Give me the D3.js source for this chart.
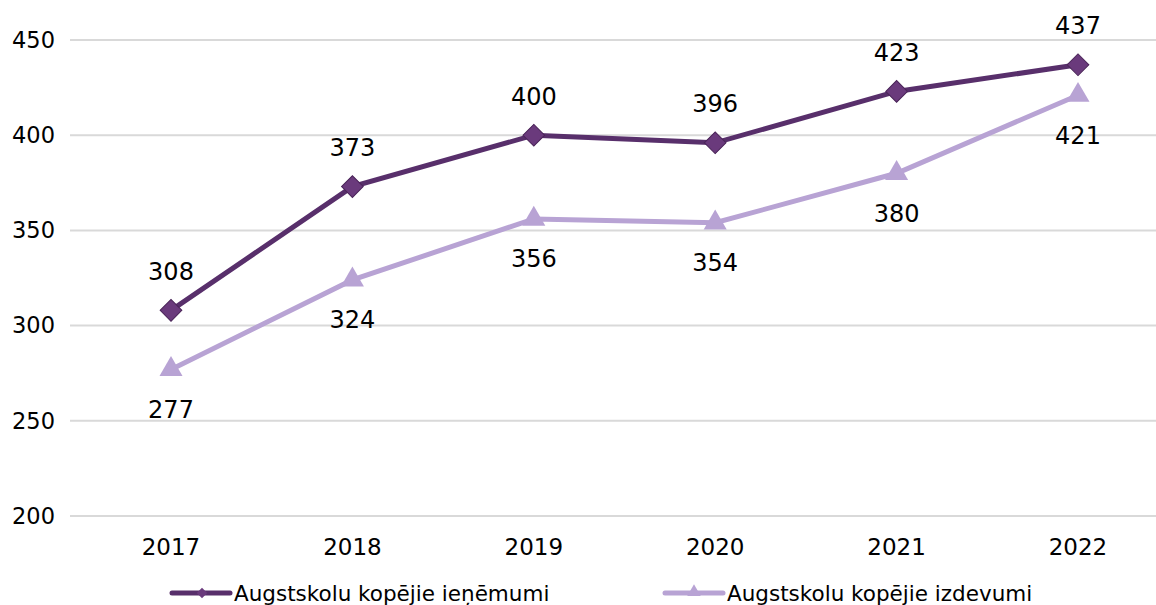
<!DOCTYPE html>
<html>
<head>
<meta charset="utf-8">
<script src="https://cdn.jsdelivr.net/npm/d3@7"></script>
<style>
  body { margin: 0; background: #fff; }
  text { font-family: "DejaVu Sans", Verdana, sans-serif; fill: #000; }
</style>
</head>
<body>
<div class="chart"></div>
<script>
var years = ["2017", "2018", "2019", "2020", "2021", "2022"];
var ienemumi = [308, 373, 400, 396, 423, 437];
var izdevumi = [277, 324, 356, 354, 380, 421];
var yTicks = [200, 250, 300, 350, 400, 450];
var seriesNames = ["Augstskolu kopējie ieņēmumi", "Augstskolu kopējie izdevumi"];

var width = 1156, height = 605;
var darkLine = "#582f6b", darkMark = "#6a3a7c";
var lightLine = "#b8a3d4";

var svg = d3.select(".chart")
    .append("svg")
    .attr("width", width)
    .attr("height", height);

var x = d3.scalePoint()
    .domain(years)
    .range([171, 1078]);

var y = d3.scaleLinear()
    .domain([200, 450])
    .range([516, 40]);

// grid
svg.append("g")
    .selectAll("line")
    .data(yTicks)
  .enter().append("line")
    .attr("x1", 70)
    .attr("x2", 1156)
    .attr("y1", function(d) { return y(d); })
    .attr("y2", function(d) { return y(d); })
    .style("stroke", "#d9d9d9")
    .style("stroke-width", 2);

// y labels
svg.append("g")
    .selectAll("text")
    .data(yTicks)
  .enter().append("text")
    .attr("x", 55)
    .attr("y", function(d) { return y(d); })
    .attr("dy", "0.35em")
    .attr("text-anchor", "end")
    .style("font-size", "22.5px")
    .text(function(d) { return d; });

// x labels
svg.append("g")
    .selectAll("text")
    .data(years)
  .enter().append("text")
    .attr("x", function(d) { return x(d); })
    .attr("y", 547)
    .attr("dy", "0.35em")
    .attr("text-anchor", "middle")
    .style("font-size", "23px")
    .text(function(d) { return d; });

var line = d3.line()
    .x(function(d, i) { return x(years[i]); })
    .y(function(d) { return y(d); });

// light series (drawn first)
svg.append("path")
    .datum(izdevumi)
    .attr("d", line)
    .style("fill", "none")
    .style("stroke", lightLine)
    .style("stroke-width", 5);

var tri = d3.symbol().type(d3.symbolTriangle).size(230);
svg.append("g")
    .selectAll("path")
    .data(izdevumi)
  .enter().append("path")
    .attr("d", tri)
    .attr("transform", function(d, i) { return "translate(" + x(years[i]) + "," + y(d) + ")"; })
    .style("fill", lightLine);

// dark series
svg.append("path")
    .datum(ienemumi)
    .attr("d", line)
    .style("fill", "none")
    .style("stroke", darkLine)
    .style("stroke-width", 5);

var dia = d3.symbol().type(d3.symbolSquare).size(235);
svg.append("g")
    .selectAll("path")
    .data(ienemumi)
  .enter().append("path")
    .attr("d", dia)
    .attr("transform", function(d, i) { return "translate(" + x(years[i]) + "," + y(d) + ") rotate(45)"; })
    .style("fill", darkMark)
    .style("stroke", "#4a2458")
    .style("stroke-width", 1);

// data labels
svg.append("g")
    .selectAll("text")
    .data(ienemumi)
  .enter().append("text")
    .attr("x", function(d, i) { return x(years[i]); })
    .attr("y", function(d) { return y(d) - 39; })
    .attr("dy", "0.35em")
    .attr("text-anchor", "middle")
    .style("font-size", "24px")
    .text(function(d) { return d; });

svg.append("g")
    .selectAll("text")
    .data(izdevumi)
  .enter().append("text")
    .attr("x", function(d, i) { return x(years[i]); })
    .attr("y", function(d) { return y(d) + 40; })
    .attr("dy", "0.35em")
    .attr("text-anchor", "middle")
    .style("font-size", "24px")
    .text(function(d) { return d; });

// legend
var legendItems = [
  {name: seriesNames[0], color: darkLine, x: 172, sym: "dia"},
  {name: seriesNames[1], color: lightLine, x: 665, sym: "tri"}
];
var lg = svg.append("g")
    .selectAll("g")
    .data(legendItems)
  .enter().append("g")
    .attr("transform", function(d) { return "translate(" + d.x + ",593)"; });

lg.append("line")
    .attr("x1", 0)
    .attr("x2", 58)
    .style("stroke", function(d) { return d.color; })
    .style("stroke-width", 5)
    .style("stroke-linecap", "round");

lg.append("path")
    .attr("d", function(d) {
      return d.sym === "dia" ? d3.symbol().type(d3.symbolSquare).size(55)() : d3.symbol().type(d3.symbolTriangle).size(80)();
    })
    .attr("transform", function(d) { return d.sym === "dia" ? "translate(30,0) rotate(45)" : "translate(29,-1)"; })
    .style("fill", function(d) { return d.sym === "dia" ? darkMark : lightLine; });

lg.append("text")
    .attr("x", 62)
    .attr("y", 0)
    .attr("dy", "0.35em")
    .style("font-size", "21.5px")
    .text(function(d) { return d.name; });
</script>
</body>
</html>
